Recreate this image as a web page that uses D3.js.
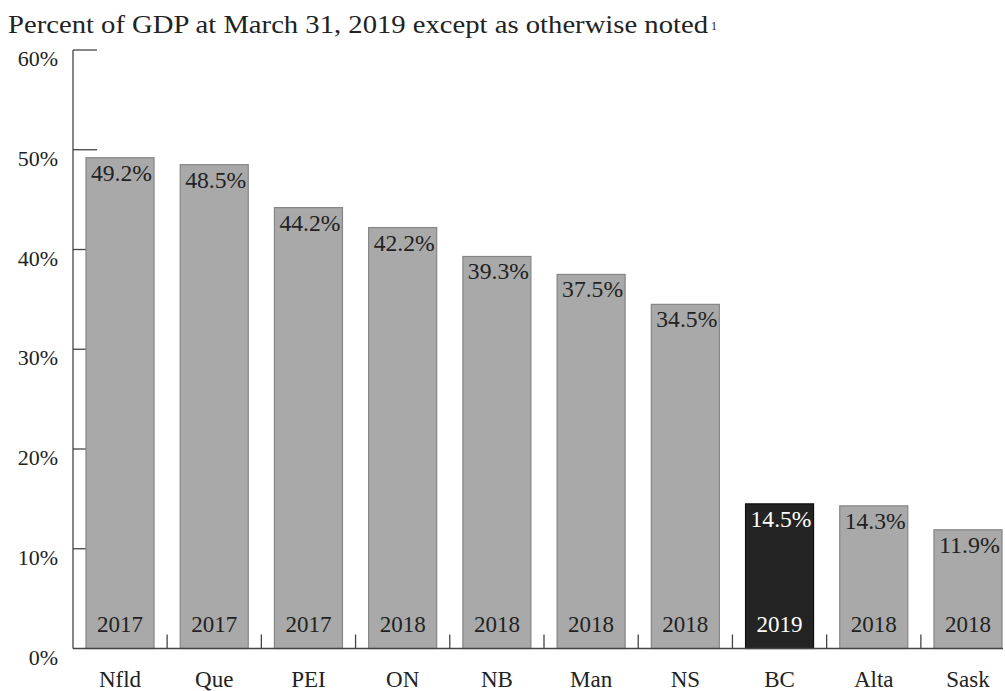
<!DOCTYPE html>
<html><head><meta charset="utf-8">
<script src="https://cdn.jsdelivr.net/npm/d3@7"></script>
<style>body{margin:0;background:#fff}svg{display:block}text{font-family:"Liberation Serif","Times New Roman",serif;fill:#222}</style>
</head><body>
<svg id="c" width="1005" height="691"></svg>
<script>
const categories = ["Nfld","Que","PEI","ON","NB","Man","NS","BC","Alta","Sask"];
const values = [49.2,48.5,44.2,42.2,39.3,37.5,34.5,14.5,14.3,11.9];
const years = ["2017","2017","2017","2018","2018","2018","2018","2019","2018","2018"];
const highlight = "BC";
const yTicks = [0,10,20,30,40,50,60];
const title = "Percent of GDP at March 31, 2019 except as otherwise noted";
const footnoteMark = "1";

const svg = d3.select("#c");
const x = d3.scaleBand().domain(categories).range([86,1002]).paddingInner(0.278).paddingOuter(0);
const y = d3.scaleLinear().domain([0,60]).range([648.5,50]);
const axisX = 73;

// title
svg.append("text").attr("x",8).attr("y",33).attr("font-size",25.5)
  .attr("textLength",700).attr("lengthAdjust","spacingAndGlyphs").text(title);
svg.append("text").attr("x",711).attr("y",30).attr("font-size",12).text(footnoteMark);

// y tick lines (inside, drawn beneath bars)
svg.append("g").selectAll("line").data(yTicks.filter(d=>d>0)).join("line")
  .attr("x1",axisX).attr("x2",axisX+24).attr("y1",d=>y(d)).attr("y2",d=>y(d))
  .attr("stroke","#444").attr("stroke-width",1.3);

// y tick labels
svg.append("g").selectAll("text").data(yTicks).join("text")
  .attr("x",58).attr("y",d=>y(d)+16).attr("text-anchor","end").attr("font-size",22)
  .text(d=>d+"%");

// bars
svg.append("g").selectAll("rect").data(categories).join("rect")
  .attr("x",d=>x(d)).attr("width",x.bandwidth())
  .attr("y",(d,i)=>y(values[i])).attr("height",(d,i)=>y(0)-y(values[i]))
  .attr("fill",d=>d===highlight?"#232323":"#a9a9a9")
  .attr("stroke",d=>d===highlight?"#111":"#858585").attr("stroke-width",1.2);

// value labels
svg.append("g").selectAll("text").data(categories).join("text")
  .attr("x",d=>x(d)+5).attr("y",(d,i)=>y(values[i])+23)
  .attr("font-size",23).attr("textLength",61).attr("lengthAdjust","spacingAndGlyphs")
  .style("fill",d=>d===highlight?"#fff":"#222")
  .text((d,i)=>values[i].toFixed(1)+"%");

// year labels
svg.append("g").selectAll("text").data(categories).join("text")
  .attr("x",d=>x(d)+x.bandwidth()/2).attr("y",632)
  .attr("text-anchor","middle").attr("font-size",23)
  .style("fill",d=>d===highlight?"#fff":"#222")
  .text((d,i)=>years[i]);

// axes lines
svg.append("line").attr("x1",axisX).attr("x2",axisX).attr("y1",y(60)).attr("y2",y(0)).attr("stroke","#444").attr("stroke-width",1.3);
svg.append("line").attr("x1",axisX).attr("x2",1003).attr("y1",y(0)).attr("y2",y(0)).attr("stroke","#444").attr("stroke-width",1.3);

// separator ticks between bars
const seps = categories.slice(1).map(d=>x(d)-x.step()*x.paddingInner()/2);
svg.append("g").selectAll("line").data(seps).join("line")
  .attr("x1",d=>d).attr("x2",d=>d).attr("y1",y(0)).attr("y2",y(0)-14)
  .attr("stroke","#444").attr("stroke-width",1.3);

// category labels
svg.append("g").selectAll("text").data(categories).join("text")
  .attr("x",d=>x(d)+x.bandwidth()/2).attr("y",687)
  .attr("text-anchor","middle").attr("font-size",23)
  .text(d=>d);
</script>
</body></html>
